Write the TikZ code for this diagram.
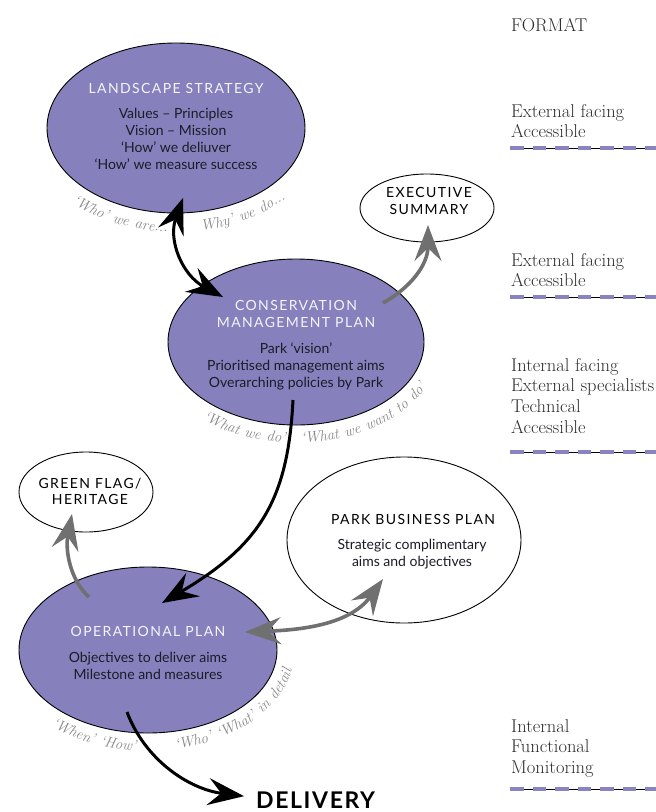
\documentclass[tikz,border=0pt]{standalone}
\usepackage{fontspec}
\usetikzlibrary{shapes.geometric,arrows.meta,calc,decorations.text}
\newfontfamily\ttlfont[LetterSpace=10]{Lato}
\newfontfamily\bodyfont{Lato}
\newfontfamily\delfont[LetterSpace=7]{Lato}
\newfontfamily\lblfont[LetterSpace=6]{Latin Modern Roman}
\definecolor{purp}{HTML}{8680BC}
\definecolor{dashc}{HTML}{8A83C2}
\definecolor{garrow}{HTML}{707070}
\definecolor{glabel}{HTML}{888888}
\definecolor{fmtcol}{HTML}{2E2E2E}
\definecolor{bodycol}{HTML}{1C1C28}
\definecolor{ttlcol}{HTML}{F4F4F8}
\newcommand{\lblfmt}{\lblfont\fontsize{15}{17}\selectfont\itshape}
\tikzset{bighead/.tip={Stealth[length=36pt,width=27pt,inset=13pt]}}
\begin{document}
\begin{tikzpicture}[x=1pt,y=-1pt,
  purpell/.style={ellipse, draw=black, line width=0.9pt, fill=purp, inner sep=0pt},
  whiteell/.style={ellipse, draw=black, line width=0.9pt, fill=white, inner sep=0pt},
  ttlw/.style={font=\ttlfont\fontsize{14}{17}\selectfont, text=ttlcol, align=center, inner sep=0pt},
  ttlk/.style={ttlw, text=black},
  bodyt/.style={font=\bodyfont\fontsize{14}{17}\selectfont, text=bodycol, align=center, inner sep=0pt},
  fmttext/.style={font=\fontsize{18.5}{20.8}\selectfont, text=fmtcol, align=left, inner sep=0pt, anchor=north west},
  blkarrow/.style={line width=3pt, draw=black},
  grayarrow/.style={line width=3.6pt, draw=garrow},
  lblpath/.style={decorate, decoration={text along path, text align=center, text color=glabel}},
  sepblack/.style={line width=0.8pt, draw=black},
  sepdash/.style={line width=3.5pt, draw=dashc, dash pattern=on 13.5pt off 9pt}
]
\useasboundingbox (0,0) rectangle (656,812);
\fill[white] (0,0) rectangle (656,812);

% ellipses
\node[purpell, minimum width=258, minimum height=170] (ls) at (176,128) {};
\node[whiteell, minimum width=134, minimum height=68] (exec) at (427,208) {};
\node[purpell, minimum width=256, minimum height=166] (cmp) at (296,342) {};
\node[whiteell, minimum width=134, minimum height=80] (gf) at (86,492) {};
\node[whiteell, minimum width=234, minimum height=166] (pbp) at (404,540) {};
\node[purpell, minimum width=258, minimum height=166] (op) at (148,650) {};

% texts in ellipses
\node[ttlw] (lst) at ($(ls)+(0,-40)$) {LANDSCAPE STRATEGY};
\node[bodyt] (lsb) at ($(ls)+(0,10.5)$) {Values – Principles\\Vision – Mission\\‘How’ we deliuver\\‘How’ we measure success};
\node[ttlk] (exect) at ($(exec)+(2,-7.5)$) {EXECUTIVE\\SUMMARY};
\node[ttlw] (cmpt) at ($(cmp)+(0,-28.5)$) {CONSERVATION\\MANAGEMENT PLAN};
\node[bodyt] (cmpb) at ($(cmp)+(0,24)$) {Park ‘vision’\\Prioritised management aims\\Overarching policies by Park};
\node[ttlk, font=\ttlfont\fontsize{14}{16}\selectfont] (gft) at ($(gf)+(4,-1)$) {GREEN FLAG/\\HERITAGE};
\node[ttlk] (pbpt) at ($(pbp)+(9,-21)$) {PARK BUSINESS PLAN};
\node[bodyt] (pbpb) at ($(pbp)+(8,14.5)$) {Strategic complimentary\\aims and objectives};
\node[ttlw] (opt) at ($(op)+(0,-19)$) {OPERATIONAL PLAN};
\node[bodyt] (opb) at ($(op)+(0,15.5)$) {Objectives to deliver aims\\Milestone and measures};

% delivery
\node[font=\delfont\bfseries\fontsize{23}{25}\selectfont, anchor=base west, inner sep=0pt] (del) at (256,808.5) {DELIVERY};

% curved labels
\path[lblpath, decoration={text={|\lblfmt|‘Who’ we are...}}, shift={(ls)}] plot[domain=158:74, samples=50] (\x:149 and 104);
\path[lblpath, decoration={text={|\lblfmt|Why’ we do...}}, shift={(ls)}] plot[domain=98:20, samples=50] (\x:149 and 104);
\path[lblpath, decoration={text={|\lblfmt|‘What we do’.}}, shift={(cmp)}] plot[domain=152:74, samples=50] (\x:146 and 101);
\path[lblpath, decoration={text={|\lblfmt|‘What we want to do’}}, shift={(cmp)}] plot[domain=100:10, samples=50] (\x:146 and 101);
\path[lblpath, decoration={text={|\lblfmt|‘When’ ‘How’}}, shift={(op)}] plot[domain=154:76, samples=50] (\x:147 and 101);
\path[lblpath, decoration={text={|\lblfmt|‘Who’ ‘What’ in detail}}, shift={(op)}] plot[domain=90:-4, samples=50] (\x:147 and 101);

% arrows
\draw[blkarrow, bighead-bighead] ($(ls)+(7,70)$) .. controls ($(ls)+(-8,112)$) and ($(cmp)+(-114,-67)$) .. ($(cmp)+(-73,-45)$);
\draw[grayarrow, -bighead] ($(cmp)+(87,-39)$) .. controls ($(cmp)+(114,-54)$) and ($(exec)+(1,57)$) .. ($(exec)+(1,17)$);
\draw[blkarrow, -bighead] ($(cmp)+(-3,58)$) .. controls ($(cmp)+(-8,158)$) and ($(op)+(112,-105)$) .. ($(op)+(14,-47)$);
\draw[grayarrow, -bighead] ($(op)+(-59,-53)$) .. controls ($(op)+(-78,-70)$) and ($(gf)+(-21,58)$) .. ($(gf)+(-14,22)$);
\draw[grayarrow, bighead-bighead] ($(op)+(97,-18)$) .. controls ($(op)+(152,-20)$) and ($(pbp)+(-54,85)$) .. ($(pbp)+(-21,39)$);
\draw[blkarrow, -bighead] ($(op)+(-21,62)$) .. controls ($(op)+(-3,110)$) and ($(del.west)+(-67,-11)$) .. ($(del.west)+(-12,-4)$);

% format column
\node[font=\fontsize{18.5}{20.8}\selectfont, text=fmtcol, anchor=base west, inner sep=0pt] (fmt) at (511,31) {FORMAT};
\node[fmttext] (f1) at (511,104) {External facing\\Accessible};
\node[fmttext] (f2) at (511,253) {External facing\\Accessible};
\node[fmttext] (f3) at (511,358) {Internal facing\\External specialists\\Technical\\Accessible};
\node[fmttext] (f4) at (511,719) {Internal\\Functional\\Monitoring};

\foreach \yy in {148,297,452,789}{
  \draw[sepblack] (510,\yy) -- (660,\yy);
  \draw[sepdash] (510,\yy) -- (660,\yy);
}
\end{tikzpicture}
\end{document}
